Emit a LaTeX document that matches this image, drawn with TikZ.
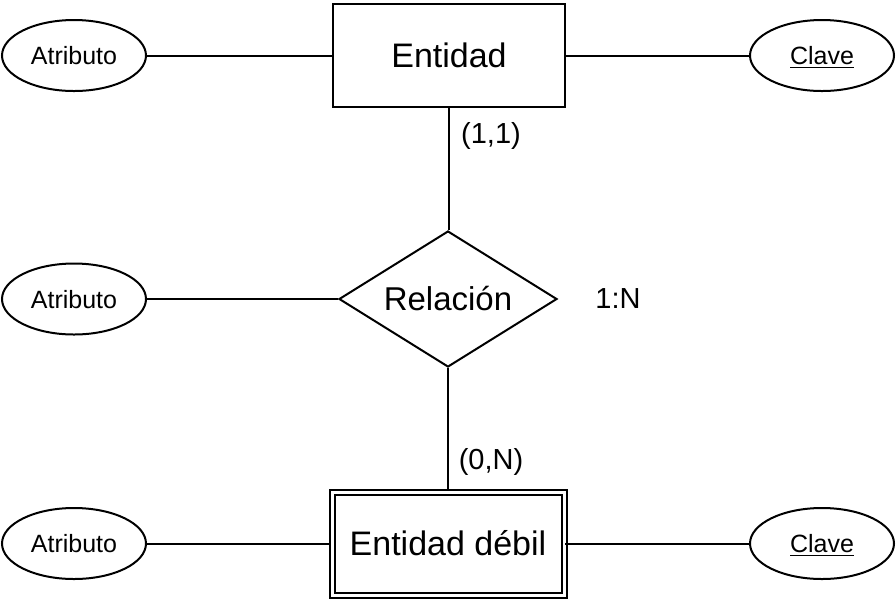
\documentclass[tikz,border=0pt]{standalone}
\usepackage{fontspec}
\setsansfont{Liberation Sans}
\usepackage{tikz}
\usetikzlibrary{shapes.geometric}

\tikzset{
  entidad/.style={draw, line width=1pt, rectangle, minimum width=116pt, minimum height=51.5pt, inner sep=0pt, font=\sffamily\fontsize{17}{20}\selectfont},
  atributo/.style={draw, line width=1pt, ellipse, minimum width=72pt, minimum height=35.5pt, inner sep=0pt, text height=9pt, text depth=0pt, font=\sffamily\fontsize{12.5}{15}\selectfont},
  relacion/.style={draw, line width=1pt, diamond, aspect=1.6, minimum width=109pt, minimum height=68pt, inner sep=0pt, font=\sffamily\fontsize{16.5}{20}\selectfont},
  card/.style={font=\sffamily\fontsize{14.5}{17}\selectfont},
}

\begin{document}
\begin{tikzpicture}[x=0.5pt, y=-0.5pt, line width=1pt]
\useasboundingbox (0,0) rectangle (896,602);

\node[entidad] (ent) at (449,55.5) {Entidad};
\node[relacion] (rel) at (448,299) {Relación};
\node[entidad, double, double distance=1.5pt] (deb) at (448,543.5) {Entidad débil};

% atributos a la izquierda
\foreach \n/\y/\obj in {atrA/55.5/ent, atrB/299/rel, atrC/543.5/deb}{
  \node[atributo] (\n) at (74,\y) {Atributo};
  \draw (\n.east) -- (\obj.west);
}

% claves a la derecha
\foreach \n/\y/\obj in {claveA/55.5/ent, claveB/543.5/deb}{
  \node[atributo] (\n) at (822,\y) {\underline{Clave}};
  \draw (\obj.east) -- (\n.west);
}

\draw (ent.south) -- (ent.south |- rel.north);
\draw (rel.south) -- (deb.north);

\node[card] (c11) at (491,136) {(1,1)};
\node[card] (c0n) at (491,462) {(0,N)};
\node[card] (tipo) at (618,299) {1:N};
\end{tikzpicture}
\end{document}
